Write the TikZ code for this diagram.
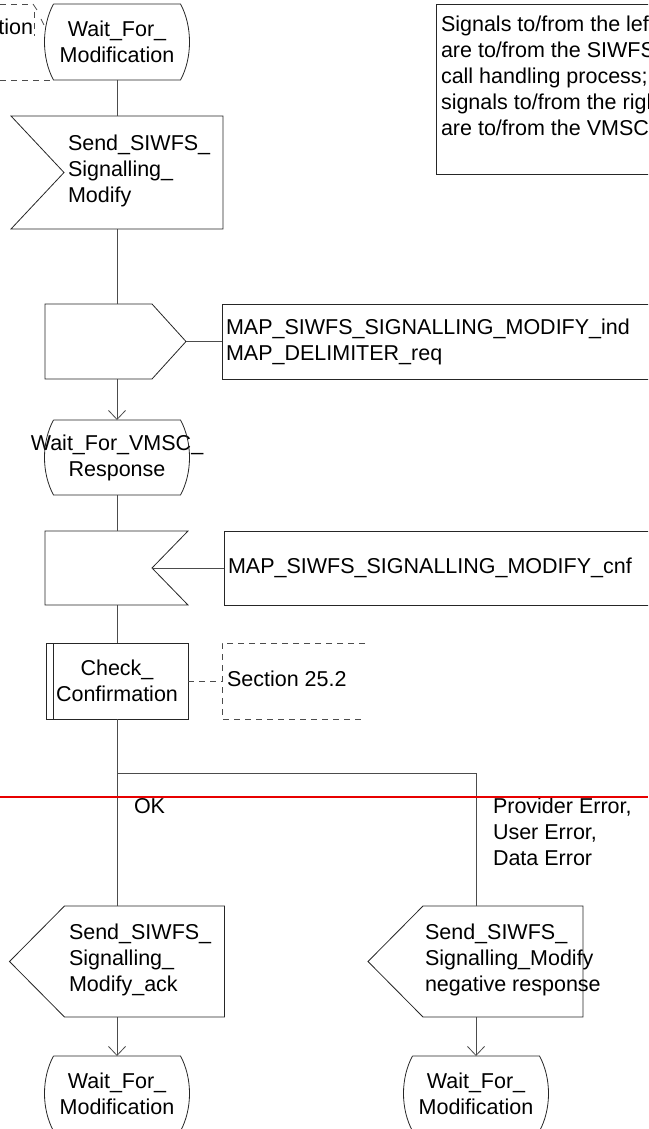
\documentclass[tikz,border=0pt]{standalone}
\usepackage{fontspec}
\setmainfont{Liberation Sans}
\usetikzlibrary{arrows.meta,calc}
\definecolor{breakred}{RGB}{232,0,0}
\newcommand\StateOutline[1]{%
  \draw[outline] (#1.north west) -- (#1.north east)
    .. controls +(12,22) and +(12,-22) .. (#1.south east)
    -- (#1.south west)
    .. controls +(-12,-22) and +(-12,22) .. (#1.north west);}
\begin{document}
\begin{tikzpicture}[x=1pt,y=-1pt,
  every node/.style={font=\fontsize{21.5}{26}\selectfont, inner sep=0pt, outer sep=0pt},
  outline/.style={draw=black!85, line width=0.8pt},
  flow/.style={draw=black!70, line width=0.8pt},
  arr/.style={flow, -{Straight Barb[length=9pt,width=17pt]}},
  note/.style={draw=black!70, line width=0.8pt, dash pattern=on 6pt off 5pt},
  state/.style={rectangle, minimum width=127pt, minimum height=75pt, align=center},
  sigbox/.style={outline, rectangle, anchor=west, minimum height=75pt, text width=436pt, inner xsep=4pt, align=left},
  txt/.style={anchor=west, align=left}
]
\useasboundingbox (0,0) rectangle (648,1129);
\clip (0,0) rectangle (648,1129);

% top-left fragment
\draw[note] (0,4) -- (33,4);
\draw[flow] (33,4) -- (37,10);
\draw[note] (34,12) -- (34,36);
\draw[flow] (41,19) -- (44,25);
\draw[note] (0,80) -- (53,80);
\node[anchor=east] (tl) at (33,27) {tion};

% legend box
\node[anchor=north west, minimum width=230pt, minimum height=170pt] (legbox) at (436,4) {};
\draw[outline] (legbox.north east) -- (legbox.north west) -- (legbox.south west) -- (legbox.south east);
\node[txt] (legend) at (441,75.5) {Signals to/from the left\\are to/from the SIWFS\\call handling process;\\signals to/from the right\\are to/from the VMSC.};

% state 1
\node[state, minimum height=76pt] (s1) at (117,42) {Wait\_For\_\\Modification};
\StateOutline{s1}

% send 1
\node[rectangle, minimum width=212pt, minimum height=113pt] (send1) at (117,172.5) {};
\draw[outline] (send1.north west) -- (send1.north east) -- (send1.south east) -- (send1.south west) -- ([xshift=53pt]send1.west) -- cycle;
\node[txt] (send1t) at (68,171) {Send\_SIWFS\_\\Signalling\_\\Modify};

% input 1
\node[rectangle, minimum width=141pt, minimum height=75pt] (inp1) at (115.5,341.5) {};
\draw[outline] (inp1.north west) -- ([xshift=-34pt]inp1.north east) -- (inp1.east) -- ([xshift=-34pt]inp1.south east) -- (inp1.south west) -- cycle;
\node[sigbox] (sig1) at (222,341.5) {MAP\_SIWFS\_SIGNALLING\_MODIFY\_ind\\MAP\_DELIMITER\_req};

% state 2
\node[state] (s2) at (117,457.5) {\makebox[0pt]{Wait\_For\_VMSC\_}\\Response};
\StateOutline{s2}

% input 2
\node[rectangle, minimum width=143pt, minimum height=74pt] (inp2) at (116.5,568) {};
\coordinate (inp2n) at ([xshift=-36pt]inp2.east);
\draw[outline] (inp2.north west) -- (inp2.north east) -- (inp2n) -- (inp2.south east) -- (inp2.south west) -- cycle;
\node[sigbox, minimum height=74pt] (sig2) at (224,568) {MAP\_SIWFS\_SIGNALLING\_MODIFY\_cnf};

% procedure
\node[outline, rectangle, minimum width=142pt, minimum height=76pt, align=center] (chk) at (117,681) {Check\_\\Confirmation};
\draw[outline] ([xshift=7pt]chk.north west) -- ([xshift=7pt]chk.south west);
\coordinate (cmt) at (222,681);
\draw[note] (365,643) -- (222,643) -- (222,719) -- (365,719);
\node[txt] (cmtt) at (227,679) {Section 25.2};

% branch
\coordinate (br) at (117,773);
\coordinate (br2) at (476,773);

% outputs
\node[rectangle, minimum width=215pt, minimum height=111pt] (out1) at (117,961.5) {};
\draw[outline] (out1.north east) -- (out1.south east) -- ([xshift=55pt]out1.south west) -- (out1.west) -- ([xshift=55pt]out1.north west) -- cycle;
\node[txt] (out1t) at (69,960) {Send\_SIWFS\_\\Signalling\_\\Modify\_ack};

\node[rectangle, minimum width=215pt, minimum height=111pt] (out2) at (475.5,961.5) {};
\draw[outline] (out2.north east) -- (out2.south east) -- ([xshift=55pt]out2.south west) -- (out2.west) -- ([xshift=55pt]out2.north west) -- cycle;
\node[txt] (out2t) at (425,960) {Send\_SIWFS\_\\Signalling\_Modify\\negative response};

% final states
\node[state] (s3) at (117,1093.5) {Wait\_For\_\\Modification};
\StateOutline{s3}
\node[state] (s4) at (476,1093.5) {Wait\_For\_\\Modification};
\StateOutline{s4}

% labels
\node[txt] (okl) at (134,806) {OK};
\node[txt] (errl) at (493,832) {Provider Error,\\User Error,\\Data Error};

% connectors
\draw[flow] (s1.south) -- (s1.south |- send1.north);
\draw[flow] (send1.south) -- (send1.south |- inp1.north);
\draw[flow] (inp1.east) -- (sig1.west);
\draw[arr] (s2.north |- inp1.south) -- (s2.north);
\draw[flow] (s2.south) -- (s2.south |- inp2.north);
\draw[flow] (inp2n) -- (sig2.west);
\draw[flow] (s2.south |- inp2.south) -- (chk.north);
\draw[note] (chk.east) -- (cmt);
\draw[flow] (chk.south) -- (br) -- (br2) -- (br2 |- out2.north);
\draw[flow] (br) -- (out1.north);
\draw[arr] (out1.south) -- (s3.north);
\draw[arr] (br2 |- out2.south) -- (s4.north);

% red rule
\draw[breakred, line width=1.6pt] (0,797) -- (648,797);
\end{tikzpicture}
\end{document}
